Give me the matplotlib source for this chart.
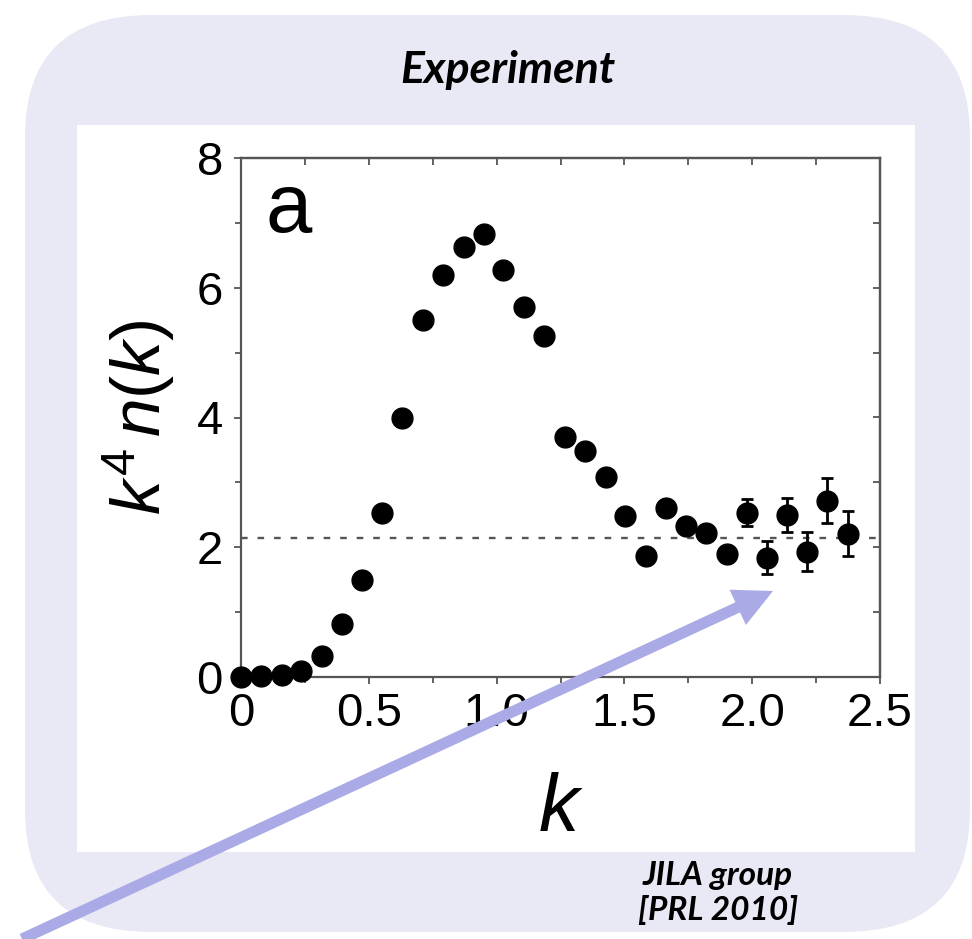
import matplotlib
matplotlib.use("Agg")
import matplotlib.pyplot as plt
from matplotlib.patches import FancyBboxPatch, Rectangle
from matplotlib.ticker import MultipleLocator
import numpy as np

plt.rcParams['font.family'] = ['Liberation Sans', 'DejaVu Sans']
plt.rcParams['mathtext.fontset'] = 'custom'
plt.rcParams['mathtext.it'] = 'Liberation Sans:italic'
plt.rcParams['mathtext.rm'] = 'Liberation Sans'

# k^4 n(k) vs k
k_vals = [0.00, 0.08, 0.16, 0.235, 0.316, 0.396, 0.475, 0.553, 0.631, 0.711,
          0.792, 0.872, 0.951, 1.026, 1.107, 1.187, 1.268, 1.346, 1.427, 1.502,
          1.585, 1.663, 1.741, 1.819, 1.900, 1.978, 2.059, 2.137, 2.215, 2.294, 2.376]
k4n_vals = [0.00, 0.01, 0.03, 0.10, 0.33, 0.81, 1.50, 2.53, 3.99, 5.51,
            6.20, 6.63, 6.83, 6.27, 5.70, 5.26, 3.70, 3.48, 3.09, 2.48,
            1.86, 2.61, 2.32, 2.22, 1.89, 2.53, 1.84, 2.50, 1.93, 2.72, 2.21]
k4n_err = [0, 0, 0, 0, 0, 0, 0, 0, 0, 0,
           0, 0, 0, 0, 0, 0, 0, 0, 0, 0,
           0, 0, 0.08, 0.10, 0.12, 0.21, 0.26, 0.26, 0.30, 0.34, 0.35]
contact_level = 2.14

x_ticks = [0, 0.5, 1.0, 1.5, 2.0, 2.5]
x_ticklabels = ["0", "0.5", "1.0", "1.5", "2.0", "2.5"]
y_ticks = [0, 2, 4, 6, 8]

W, H = 972, 939
fig = plt.figure(figsize=(W / 100, H / 100), dpi=100)

def fx(px):
    return px / W

def fy(py):
    return 1 - py / H

# lavender rounded box + white panel behind the plot
bg = FancyBboxPatch((fx(25), fy(932)), fx(970) - fx(25), fy(15) - fy(932),
                    boxstyle="round,pad=0,rounding_size=0.13",
                    transform=fig.transFigure, facecolor="#e9e9f6",
                    edgecolor="none", zorder=-3)
fig.patches.append(bg)
panel = Rectangle((fx(77), fy(852)), fx(915) - fx(77), fy(125) - fy(852),
                  transform=fig.transFigure, facecolor="white",
                  edgecolor="none", zorder=-2)
fig.patches.append(panel)

ax = fig.add_axes([fx(241), fy(677), fx(880) - fx(241), fy(158) - fy(677)])
ax.set_facecolor("white")
ax.set_xlim(0, 2.5)
ax.set_ylim(0, 8)

ax.axhline(contact_level, color="#555555", lw=1.7, ls=(0, (2.8, 4.2)), zorder=1)

ax.errorbar(k_vals, k4n_vals, yerr=k4n_err, fmt="o", color="black",
            ms=15, capsize=4, elinewidth=2, capthick=2, clip_on=False, zorder=3)

ax.set_xticks(x_ticks)
ax.set_xticklabels(x_ticklabels)
ax.set_yticks(y_ticks)
ax.xaxis.set_minor_locator(MultipleLocator(0.25))
ax.yaxis.set_minor_locator(MultipleLocator(1))
ax.tick_params(axis="both", which="both", direction="out", color="#555555",
               labelsize=34, width=1.3)
ax.tick_params(axis="both", which="major", length=5)
ax.tick_params(axis="both", which="minor", length=4)
ax.tick_params(axis="x", pad=6)
ax.tick_params(axis="y", pad=8)
ax.xaxis.set_ticks_position("bottom")
ax.yaxis.set_ticks_position("left")
ax2 = ax.secondary_xaxis("top")
ax2.set_xticks(np.arange(0.25, 2.5, 0.25))
ax2.tick_params(direction="in", length=5, color="#555555", labeltop=False, width=1.3)
ax3 = ax.secondary_yaxis("right")
ax3.set_yticks(np.arange(1, 8, 1))
ax3.tick_params(direction="in", length=5, color="#555555", labelright=False, width=1.3)
for s in list(ax.spines.values()) + [ax2.spines["top"], ax3.spines["right"]]:
    s.set_color("#555555")
    s.set_linewidth(1.6)

ax.set_xlabel("$k$", fontsize=58, labelpad=26)
ax.set_ylabel(r"$k^{\mathrm{4}}\,n(k)$", fontsize=50, labelpad=14)

ax.text(0.038, 0.975, "a", transform=ax.transAxes, fontsize=60,
        ha="left", va="top")

title_font = ['Lato', 'Liberation Sans', 'DejaVu Sans']
fig.text(fx(508), fy(83), "Experiment", fontsize=32, fontweight="bold",
         fontstyle="italic", family=title_font, ha="center", va="baseline")
fig.text(fx(718), fy(885), "JILA group", fontsize=24, fontweight="bold",
         fontstyle="italic", family=title_font, ha="center", va="baseline")
fig.text(fx(718), fy(920), "[PRL 2010]", fontsize=24, fontweight="bold",
         fontstyle="italic", family=title_font, ha="center", va="baseline")

# pointer arrow, drawn over everything
ax.annotate("", xy=(773, H - 591), xycoords="figure pixels",
            xytext=(22, H - 939), textcoords="figure pixels",
            arrowprops=dict(width=8, headwidth=28, headlength=28,
                            color="#aaaae6", lw=0),
            annotation_clip=False, zorder=10)

fig.savefig("out.png", dpi=100)
